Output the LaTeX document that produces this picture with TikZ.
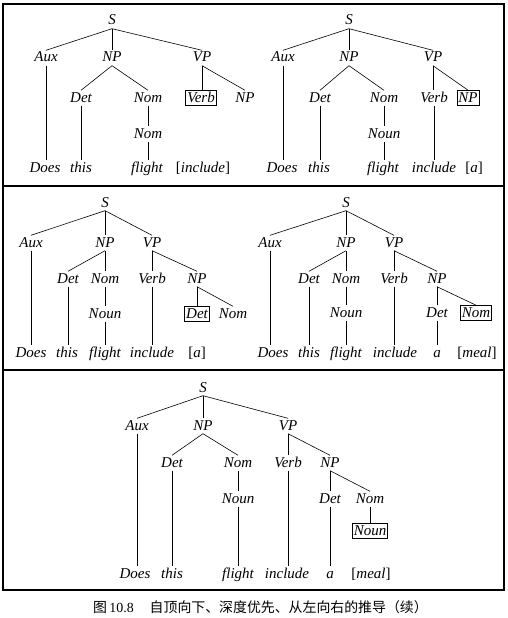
\documentclass[tikz,border=0pt]{standalone}
\usepackage{fontspec}
\newfontfamily\treefont{Liberation Serif}
\newfontfamily\cjk{Noto Sans CJK SC}
\newcommand\tlabfont{\treefont\itshape\fontsize{15}{18}\selectfont}
\tikzset{
  lab/.style={font=\tlabfont, inner sep=1.5pt, text height=10pt, text depth=2pt},
  hl/.style={lab, draw, line width=0.6pt},
  edge/.style={line width=0.6pt},
  frame/.style={line width=1.1pt}
}
% straight drop from a parent to a child directly below it
\newcommand\dropline[2]{\draw[edge] (#1.south) -- (#1.south |- #2.north);}
\newcommand\slantline[2]{\draw[edge] (#1.south) -- (#2.north);}
\newcommand\br[1]{{\upshape[}#1{\upshape]}}
\begin{document}
\begin{tikzpicture}[x=1pt,y=-1pt]
\useasboundingbox (0,0) rectangle (508,618);

% frames
\draw[frame] (3,4) rectangle (504,590);
\draw[frame] (3,186) -- (504,186);
\draw[frame] (3,370) -- (504,370);

% ---------- first row, left ----------
\node[lab] (aS) at (112,21) {S};
\node[lab] (aAux) at (46,58) {Aux};
\node[lab] (aNP) at (112,58) {NP};
\node[lab] (aVP) at (202,58) {VP};
\node[lab] (aDet) at (81,98) {Det};
\node[lab] (aNom) at (148,98) {Nom};
\node[hl] (aVerb) at (201,98) {Verb};
\node[lab] (aNP2) at (245,98) {NP};
\node[lab] (aNom2) at (148,134) {Nom};
\node[lab] (aW1) at (45,168) {Does};
\node[lab] (aW2) at (81,168) {this};
\node[lab] (aW3) at (147,168) {flight};
\node[lab] (aW4) at (203,168) {\br{include}};
\slantline{aS}{aAux} \dropline{aS}{aNP} \slantline{aS}{aVP}
\slantline{aNP}{aDet} \slantline{aNP}{aNom}
\dropline{aVP}{aVerb} \slantline{aVP}{aNP2}
\dropline{aAux}{aW1} \dropline{aDet}{aW2}
\dropline{aNom}{aNom2} \dropline{aNom2}{aW3}

% ---------- first row, right ----------
\node[lab] (bS) at (349,21) {S};
\node[lab] (bAux) at (283,58) {Aux};
\node[lab] (bNP) at (349,58) {NP};
\node[lab] (bVP) at (433,58) {VP};
\node[lab] (bDet) at (320,98) {Det};
\node[lab] (bNom) at (384,98) {Nom};
\node[lab] (bVerb) at (434,98) {Verb};
\node[hl] (bNP2) at (468,98) {NP};
\node[lab] (bNoun) at (384,134) {Noun};
\node[lab] (bW1) at (282,168) {Does};
\node[lab] (bW2) at (319,168) {this};
\node[lab] (bW3) at (383,168) {flight};
\node[lab] (bW4) at (434,168) {include};
\node[lab] (bW5) at (474,168) {\br{a}};
\slantline{bS}{bAux} \dropline{bS}{bNP} \slantline{bS}{bVP}
\slantline{bNP}{bDet} \slantline{bNP}{bNom}
\dropline{bVP}{bVerb} \slantline{bVP}{bNP2}
\dropline{bAux}{bW1} \dropline{bDet}{bW2}
\dropline{bNom}{bNoun} \dropline{bNoun}{bW3}
\dropline{bVerb}{bW4}

% ---------- second row, left ----------
\node[lab] (cS) at (105,203) {S};
\node[lab] (cAux) at (31,243) {Aux};
\node[lab] (cNP) at (105,243) {NP};
\node[lab] (cVP) at (152,243) {VP};
\node[lab] (cDet) at (68,279) {Det};
\node[lab] (cNom) at (105,279) {Nom};
\node[lab] (cVerb) at (152,279) {Verb};
\node[lab] (cNP2) at (197,279) {NP};
\node[lab] (cNoun) at (105,314) {Noun};
\node[hl] (cDet2) at (197,314) {Det};
\node[lab] (cNom2) at (233,314) {Nom};
\node[lab] (cW1) at (31,353) {Does};
\node[lab] (cW2) at (67,353) {this};
\node[lab] (cW3) at (105,353) {flight};
\node[lab] (cW4) at (152,353) {include};
\node[lab] (cW5) at (197,353) {\br{a}};
\slantline{cS}{cAux} \dropline{cS}{cNP} \slantline{cS}{cVP}
\slantline{cNP}{cDet} \dropline{cNP}{cNom}
\dropline{cVP}{cVerb} \slantline{cVP}{cNP2}
\dropline{cNP2}{cDet2} \slantline{cNP2}{cNom2}
\dropline{cAux}{cW1} \dropline{cDet}{cW2}
\dropline{cNom}{cNoun} \dropline{cNoun}{cW3}
\dropline{cVerb}{cW4}

% ---------- second row, right ----------
\node[lab] (dS) at (346,203) {S};
\node[lab] (dAux) at (270,243) {Aux};
\node[lab] (dNP) at (346,243) {NP};
\node[lab] (dVP) at (394,243) {VP};
\node[lab] (dDet) at (309,279) {Det};
\node[lab] (dNom) at (346,279) {Nom};
\node[lab] (dVerb) at (394,279) {Verb};
\node[lab] (dNP2) at (437,279) {NP};
\node[lab] (dNoun) at (346,313) {Noun};
\node[lab] (dDet2) at (437,313) {Det};
\node[hl] (dNom2) at (476,313) {Nom};
\node[lab] (dW1) at (273,353) {Does};
\node[lab] (dW2) at (309,353) {this};
\node[lab] (dW3) at (346,353) {flight};
\node[lab] (dW4) at (395,353) {include};
\node[lab] (dW5) at (437,353) {a};
\node[lab] (dW6) at (477,353) {\br{meal}};
\slantline{dS}{dAux} \dropline{dS}{dNP} \slantline{dS}{dVP}
\slantline{dNP}{dDet} \dropline{dNP}{dNom}
\dropline{dVP}{dVerb} \slantline{dVP}{dNP2}
\dropline{dNP2}{dDet2} \slantline{dNP2}{dNom2}
\dropline{dAux}{dW1} \dropline{dDet}{dW2}
\dropline{dNom}{dNoun} \dropline{dNoun}{dW3}
\dropline{dVerb}{dW4} \dropline{dDet2}{dW5}

% ---------- third row ----------
\node[lab] (eS) at (203,388) {S};
\node[lab] (eAux) at (137,426) {Aux};
\node[lab] (eNP) at (203,426) {NP};
\node[lab] (eVP) at (288,426) {VP};
\node[lab] (eDet) at (172,463) {Det};
\node[lab] (eNom) at (238,463) {Nom};
\node[lab] (eVerb) at (288,463) {Verb};
\node[lab] (eNP2) at (330,463) {NP};
\node[lab] (eNoun) at (238,499) {Noun};
\node[lab] (eDet2) at (330,499) {Det};
\node[lab] (eNom2) at (370,499) {Nom};
\node[hl] (eNoun2) at (370,531) {Noun};
\node[lab] (eW1) at (135,574) {Does};
\node[lab] (eW2) at (172,574) {this};
\node[lab] (eW3) at (238,574) {flight};
\node[lab] (eW4) at (287,574) {include};
\node[lab] (eW5) at (330,574) {a};
\node[lab] (eW6) at (371,574) {\br{meal}};
\slantline{eS}{eAux} \dropline{eS}{eNP} \slantline{eS}{eVP}
\slantline{eNP}{eDet} \slantline{eNP}{eNom}
\dropline{eVP}{eVerb} \slantline{eVP}{eNP2}
\dropline{eNP2}{eDet2} \slantline{eNP2}{eNom2}
\dropline{eNom2}{eNoun2}
\dropline{eAux}{eW1} \dropline{eDet}{eW2}
\dropline{eNom}{eNoun} \dropline{eNoun}{eW3}
\dropline{eVerb}{eW4} \dropline{eDet2}{eW5}

% caption
\node[anchor=base west, inner sep=0pt, font=\fontsize{13.9}{16}\selectfont] (cap) at (93,612)
  {{\cjk 图}\,{\treefont 10.8}\hspace{16pt}{\cjk 自顶向下、深度优先、从左向右的推导（续）}};
\end{tikzpicture}
\end{document}
